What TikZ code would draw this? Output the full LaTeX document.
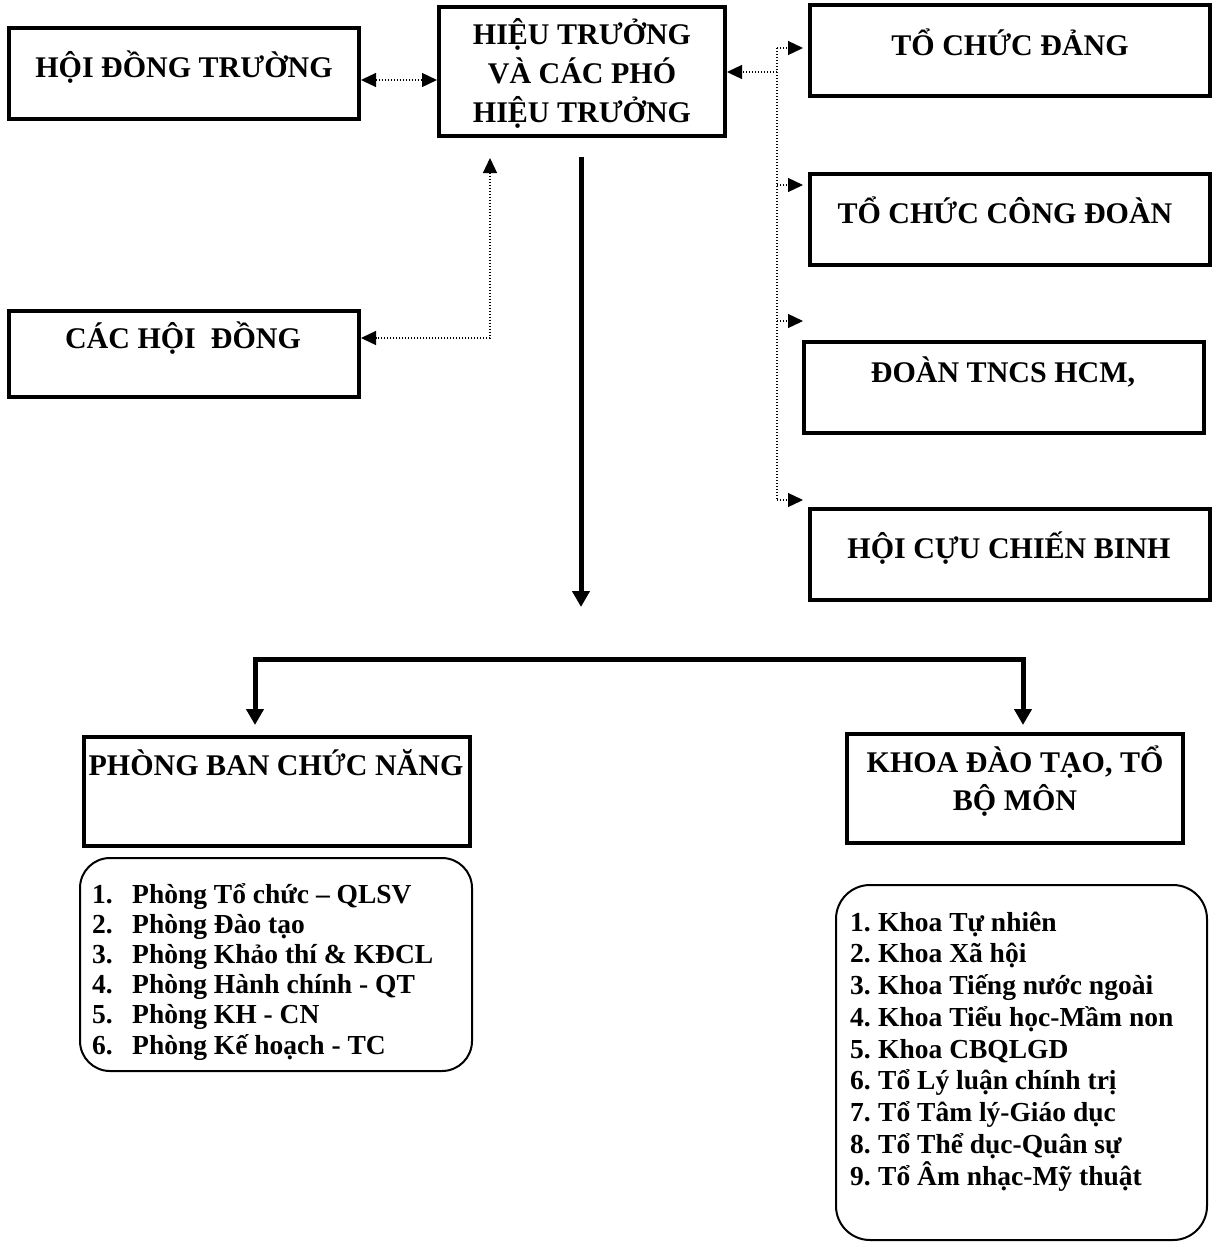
\documentclass[tikz,border=0pt]{standalone}
\usepackage{fontspec}
\setmainfont{Liberation Serif}
\usetikzlibrary{arrows.meta}
\begin{document}
\begin{tikzpicture}[x=1pt,y=-1pt,
  box/.style={draw,line width=4pt,inner sep=0pt},
  rbox/.style={draw,line width=2pt,inner sep=0pt,rounded corners=30pt},
  title/.style={font=\fontsize{30}{35}\selectfont\bfseries,anchor=base,inner sep=0pt},
  item/.style={font=\fontsize{27.5}{32}\selectfont\bfseries,anchor=base west,inner sep=0pt},
  dotline/.style={line width=1.3pt,dash pattern=on 1.3pt off 1.7pt},
  dotc/.style={dotline,-{Triangle[length=15pt,width=14pt]}},
  dotcc/.style={dotline,{Triangle[length=15pt,width=14pt]}-{Triangle[length=15pt,width=14pt]}},
  bigarrow/.style={line width=5pt,-{Triangle[length=16pt,width=17pt]}},
  bigarrows/.style={line width=5pt,line join=miter,{Triangle[length=16pt,width=17pt]}-{Triangle[length=16pt,width=17pt]}}]
\useasboundingbox (0,0) rectangle (1214,1243);

% boxes
\node[box,minimum width=350pt,minimum height=91pt] (hdt) at (184,73.5) {};
\node[box,minimum width=286pt,minimum height=129pt] (ht) at (582,71.5) {};
\node[box,minimum width=400pt,minimum height=91pt] (tcd) at (1010,50.5) {};
\node[box,minimum width=400pt,minimum height=91pt] (tccd) at (1010,219.5) {};
\node[box,minimum width=400pt,minimum height=91pt] (doan) at (1004,387.5) {};
\node[box,minimum width=400pt,minimum height=91pt] (hccb) at (1010,554.5) {};
\node[box,minimum width=350pt,minimum height=86pt] (chd) at (184,354) {};
\node[box,minimum width=386pt,minimum height=109pt] (pb) at (277,791.5) {};
\node[box,minimum width=336pt,minimum height=109pt] (khoa) at (1015,788.5) {};
\node[rbox,minimum width=392pt,minimum height=213pt] (lrb) at (276,964.5) {};
\node[rbox,rounded corners=34pt,minimum width=371pt,minimum height=355pt] (rrb) at (1021.5,1062.5) {};

% titles
\node[title] (hdt-t) at (184,77) {HỘI ĐỒNG TRƯỜNG};
\node[title] (ht-1) at (582,44) {HIỆU TRƯỞNG};
\node[title] (ht-2) at (582,83) {VÀ CÁC PHÓ};
\node[title] (ht-3) at (582,122) {HIỆU TRƯỞNG};
\node[title] (tcd-t) at (1010,55) {TỔ CHỨC ĐẢNG};
\node[title] (tccd-t) at (1005,223) {TỔ CHỨC CÔNG ĐOÀN};
\node[title] (doan-t) at (1003,382) {ĐOÀN TNCS HCM,};
\node[title] (hccb-t) at (1009,558) {HỘI CỰU CHIẾN BINH};
\node[title] (chd-t) at (183,348) {CÁC HỘI\ \ ĐỒNG};
\node[title] (pb-t) at (276,775) {PHÒNG BAN CHỨC NĂNG};
\node[title] (khoa-1) at (1015,772) {KHOA ĐÀO TẠO, TỔ};
\node[title] (khoa-2) at (1015,810) {BỘ MÔN};

% lists
\foreach \t [count=\i] in {Phòng Tổ chức – QLSV,Phòng Đào tạo,Phòng Khảo thí \& KĐCL,Phòng Hành chính - QT,Phòng KH - CN,Phòng Kế hoạch - TC}{
  \node[item] (ln\i) at (92,{903+30.2*(\i-1)}) {\i.};
  \node[item] (lt\i) at (132,{903+30.2*(\i-1)}) {\t};
}
\foreach \t [count=\i] in {Khoa Tự nhiên,Khoa Xã hội,Khoa Tiếng nước ngoài,Khoa Tiểu học-Mầm non,Khoa CBQLGD,Tổ Lý luận chính trị,Tổ Tâm lý-Giáo dục,Tổ Thể dục-Quân sự,Tổ Âm nhạc-Mỹ thuật}{
  \node[item] (rn\i) at (850,{931+31.75*(\i-1)}) {\i.};
  \node[item] (rt\i) at (878,{931+31.75*(\i-1)}) {\t};
}

% dotted connectors
\coordinate (a1) at (361,80);
\draw[dotcc] (a1 -| hdt.east) -- (a1 -| ht.west);
\coordinate (j1) at (777,72);
\draw[dotc] (j1) -- (j1 -| ht.east);
\coordinate (b1) at (777,48);
\coordinate (b2) at (777,185);
\coordinate (b3) at (777,321);
\coordinate (b4) at (777,500);
\draw[dotline] (b1) -- (b4);
\draw[dotc] (b1) -- ([xshift=-5pt]b1 -| tcd.west);
\draw[dotc] (b2) -- ([xshift=-5pt]b2 -| tccd.west);
\draw[dotc] (b3) -- ([xshift=-5pt]b3 -| tccd.west);
\draw[dotc] (b4) -- ([xshift=-5pt]b4 -| hccb.west);
\coordinate (c0) at (490,158);
\coordinate (c1) at (490,338);
\draw[dotcc] (c0) -- (c1) -- (c1 -| chd.east);

% thick connectors
\coordinate (m0) at (581,157);
\coordinate (m1) at (581,607);
\draw[bigarrow] (m0) -- (m1);
\coordinate (bl) at (255,659.5);
\coordinate (br) at (1023,659.5);
\coordinate (tl) at (255,725);
\coordinate (tr) at (1023,725);
\draw[bigarrows] (tl) -- (bl) -- (br) -- (tr);
\end{tikzpicture}
\end{document}
